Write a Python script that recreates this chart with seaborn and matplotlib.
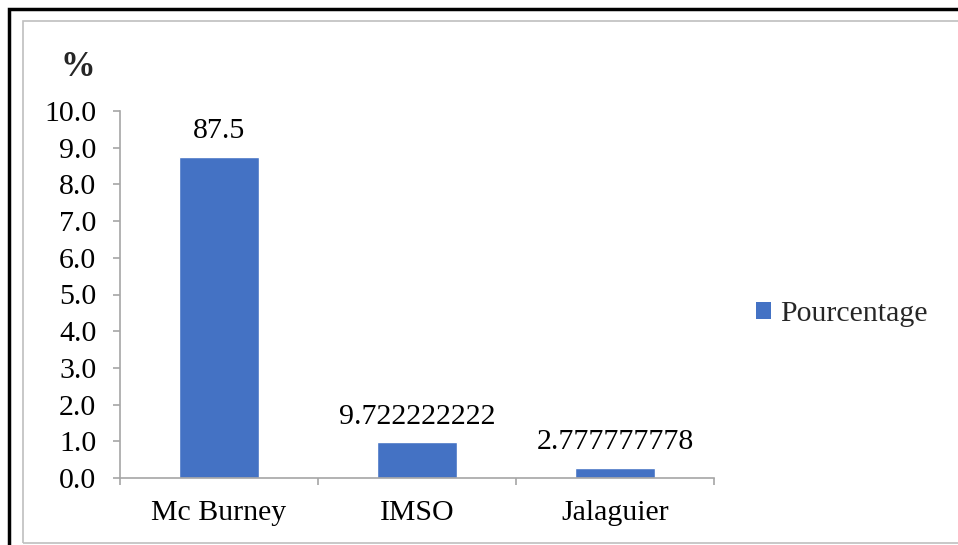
import matplotlib
matplotlib.use('Agg')
import matplotlib.pyplot as plt
import seaborn as sns
import pandas as pd
from matplotlib.patches import Rectangle, Patch

categories = ['Mc Burney', 'IMSO', 'Jalaguier']
percent_labels = ['87.5', '9.722222222', '2.777777778']
bar_values = [8.75, 0.9722222222, 0.2777777778]
y_ticks = [0.0, 1.0, 2.0, 3.0, 4.0, 5.0, 6.0, 7.0, 8.0, 9.0, 10.0]
series_name = 'Pourcentage'
y_unit = '%'

sns.set_theme(style='white')
plt.rcParams['font.family'] = ['Liberation Serif', 'DejaVu Serif']

BLUE = '#4472C4'
GRAY = '#A6A6A6'
FS = 21.5

W, H = 958, 545
fig = plt.figure(figsize=(W / 100, H / 100), dpi=100)
ax = fig.add_axes([120 / W, (H - 478) / H, (714 - 120) / W, (478 - 111) / H])

df = pd.DataFrame({'cat': categories, 'val': bar_values, 'series': series_name})
sns.barplot(data=df, x='cat', y='val', hue='series', palette=[BLUE], width=0.4,
            ax=ax, legend=False, saturation=1)

ax.set_xlim(-0.5, len(categories) - 0.5)
ax.set_ylim(y_ticks[0], y_ticks[-1])
ax.set_yticks(y_ticks)
ax.set_yticklabels([f'{t:.1f}' for t in y_ticks], fontsize=FS, color='black')
ax.set_xticks(range(len(categories)))
ax.set_xticklabels(categories, fontsize=FS, color='black')
ax.set_xticks([i - 0.5 for i in range(len(categories) + 1)], minor=True)
ax.tick_params(axis='x', which='major', length=0, pad=16)
ax.tick_params(axis='x', which='minor', length=5, width=1.2, color=GRAY, direction='out', bottom=True)
ax.tick_params(axis='y', which='major', length=5, width=1.2, color=GRAY, direction='out', left=True, pad=12)
ax.set_xlabel('')
ax.set_ylabel('')
for s in ['top', 'right']:
    ax.spines[s].set_visible(False)
for s in ['left', 'bottom']:
    ax.spines[s].set_color(GRAY)
    ax.spines[s].set_linewidth(1.2)

for i, (v, lab) in enumerate(zip(bar_values, percent_labels)):
    ax.annotate(lab, (i, v), xytext=(0, 9), textcoords='offset points',
                ha='center', va='bottom', fontsize=FS, color='black')

fig.text(78 / W, (H - 67) / H, y_unit, fontsize=25, fontweight='bold', ha='center', va='center')

handles = [Patch(facecolor=BLUE, edgecolor='none')]
fig.legend(handles, [series_name], loc='center left',
           bbox_to_anchor=(756 / W, (H - 314) / H), frameon=False, fontsize=FS,
           handlelength=0.5, handleheight=0.5, handletextpad=0.3,
           borderpad=0, borderaxespad=0)

# outer frames
fig.patches.append(Rectangle((9 / W, -0.1), 1.2, (H - 9) / H + 0.1, transform=fig.transFigure,
                             fill=False, edgecolor='black', linewidth=2.5))
fig.patches.append(Rectangle((23 / W, (H - 543) / H), 1.2, (543 - 21) / H, transform=fig.transFigure,
                             fill=False, edgecolor='#BFBFBF', linewidth=1.2))

fig.savefig('out.png', dpi=100)
